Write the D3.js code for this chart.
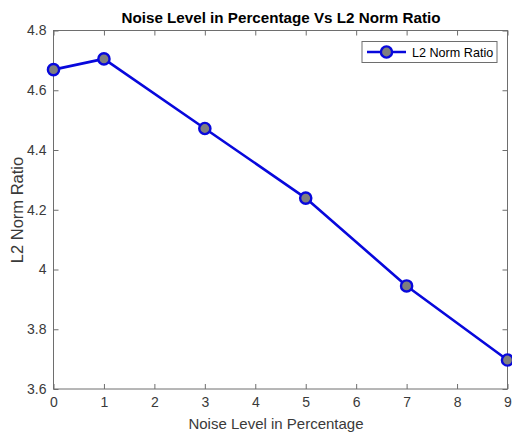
<!DOCTYPE html>
<html><head><meta charset="utf-8">
<script src="https://cdn.jsdelivr.net/npm/d3@7"></script>
<style>body{margin:0;background:#fff}text{font-family:"Liberation Sans",Arial,sans-serif}</style>
</head><body>
<svg id="c" width="512" height="432"></svg>
<script>
const noiseLevels = [0, 1, 3, 5, 7, 9];
const l2Ratio = [4.669, 4.705, 4.472, 4.239, 3.945, 3.697];
const xTicks = [0,1,2,3,4,5,6,7,8,9];
const yTicks = [3.6,3.8,4.0,4.2,4.4,4.6,4.8];
const titleText = "Noise Level in Percentage Vs L2 Norm Ratio";
const xLabel = "Noise Level in Percentage";
const yLabel = "L2 Norm Ratio";
const seriesName = "L2 Norm Ratio";

const svg = d3.select("#c");
const L=53.5, R=507.5, T=30.5, B=389;
const x = d3.scaleLinear().domain([0,9]).range([L,R]);
const y = d3.scaleLinear().domain([3.6,4.8]).range([B,T]);
const axisCol="#6e6e6e", txtCol="#3a3a3a", blue="#0808dc";

svg.append("rect").attr("x",L).attr("y",T).attr("width",R-L).attr("height",B-T)
  .attr("fill","none").attr("stroke",axisCol).attr("stroke-width",1);

const fmtY = d => (d===4? "4" : d3.format(".1f")(d));
const xa = svg.append("g").attr("transform",`translate(0,${B})`)
  .call(d3.axisBottom(x).tickValues(xTicks).tickSize(-5).tickPadding(8).tickFormat(d3.format("d")));
const ya = svg.append("g").attr("transform",`translate(${L},0)`)
  .call(d3.axisLeft(y).tickValues(yTicks).tickSize(-5).tickPadding(7).tickFormat(fmtY));
const xt = svg.append("g").attr("transform",`translate(0,${T})`)
  .call(d3.axisTop(x).tickValues(xTicks).tickSize(-5).tickFormat(""));
const yr = svg.append("g").attr("transform",`translate(${R},0)`)
  .call(d3.axisRight(y).tickValues(yTicks).tickSize(-5).tickFormat(""));
[xa,ya,xt,yr].forEach(g=>{
  g.select(".domain").remove();
  g.selectAll("line").attr("stroke",axisCol);
  g.selectAll("text").attr("fill",txtCol).style("font-size","14px").style("font-family","Liberation Sans, Arial, sans-serif");
});

const line = d3.line().x((d,i)=>x(noiseLevels[i])).y(d=>y(d));
svg.append("path").datum(l2Ratio).attr("d",line).attr("fill","none")
  .attr("stroke",blue).attr("stroke-width",2.6).attr("stroke-linejoin","round");
svg.selectAll("circle.pt").data(l2Ratio).join("circle").attr("class","pt")
  .attr("cx",(d,i)=>x(noiseLevels[i])).attr("cy",d=>y(d)).attr("r",5.6)
  .attr("fill","#7f7f7f").attr("stroke",blue).attr("stroke-width",2.4);

svg.append("text").attr("x",281).attr("y",23).attr("text-anchor","middle")
  .style("font-size","15.2px").style("font-weight","bold").attr("fill","#000").text(titleText);
svg.append("text").attr("x",276).attr("y",429).attr("text-anchor","middle")
  .style("font-size","15px").attr("fill",txtCol).text(xLabel);
svg.append("text").attr("transform",`translate(22.5,210) rotate(-90)`).attr("text-anchor","middle")
  .style("font-size","16.5px").attr("fill",txtCol).text(yLabel);

const lg = svg.append("g");
lg.append("rect").attr("x",362).attr("y",41.5).attr("width",135).attr("height",21)
  .attr("fill","#fff").attr("stroke",axisCol).attr("stroke-width",1);
lg.append("line").attr("x1",367).attr("x2",406).attr("y1",52).attr("y2",52)
  .attr("stroke",blue).attr("stroke-width",2.6);
lg.append("circle").attr("cx",386.5).attr("cy",52).attr("r",5.6)
  .attr("fill","#7f7f7f").attr("stroke",blue).attr("stroke-width",2.4);
lg.append("text").attr("x",412).attr("y",56.5).style("font-size","12.6px").attr("fill","#000").text(seriesName);
</script>
</body></html>
